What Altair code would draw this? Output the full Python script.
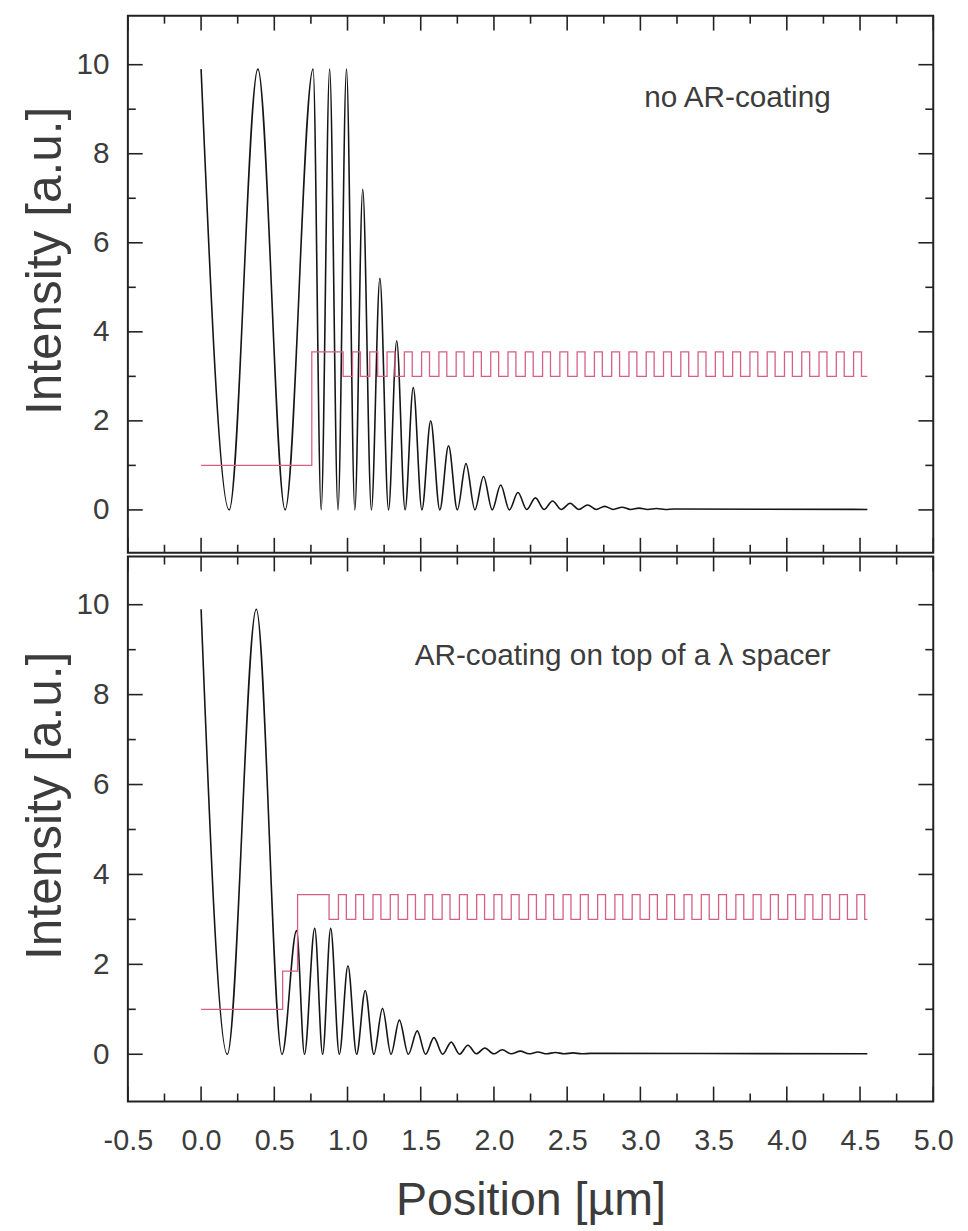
import altair as alt
import pandas as pd

# ---------------- data ----------------
X_MAJOR = [-0.5, 0.0, 0.5, 1.0, 1.5, 2.0, 2.5, 3.0, 3.5, 4.0, 4.5, 5.0]
X_MINOR = [-0.25, 0.25, 0.75, 1.25, 1.75, 2.25, 2.75, 3.25, 3.75, 4.25, 4.75]
Y_MAJOR = [0, 2, 4, 6, 8, 10]
Y_MINOR = [1, 3, 5, 7, 9]

# intensity extrema (position in um, intensity a.u.) - upper panel
TOP_X = [0.00, 0.192, 0.388, 0.574, 0.765, 0.820, 0.878, 0.935, 0.993, 1.050,
         1.104, 1.163, 1.221, 1.280, 1.336, 1.393, 1.449, 1.508, 1.568, 1.630,
         1.690, 1.750, 1.809, 1.870, 1.929, 1.988, 2.046, 2.105, 2.164, 2.224,
         2.283, 2.342, 2.400, 2.460, 2.520, 2.580, 2.640, 2.698, 2.756, 2.815,
         2.875, 2.933, 2.990, 3.050, 3.110, 3.170, 3.230, 4.550]
TOP_I = [9.9, 0.0, 9.9, 0.0, 9.9, 0.0, 9.9, 0.0, 9.9, 0.0,
         7.2, 0.0, 5.2, 0.0, 3.8, 0.0, 2.75, 0.0, 2.0, 0.0,
         1.44, 0.0, 1.04, 0.0, 0.75, 0.0, 0.56, 0.0, 0.39, 0.01,
         0.27, 0.01, 0.20, 0.01, 0.15, 0.01, 0.11, 0.01, 0.08, 0.01,
         0.06, 0.01, 0.04, 0.01, 0.03, 0.01, 0.02, 0.01]

# intensity extrema - lower panel
BOT_X = [0.00, 0.179, 0.377, 0.553, 0.652, 0.706, 0.776, 0.830, 0.885, 0.944,
         1.003, 1.062, 1.121, 1.180, 1.239, 1.297, 1.354, 1.415, 1.476, 1.533,
         1.590, 1.650, 1.708, 1.765, 1.822, 1.880, 1.938, 1.998, 2.057, 2.118,
         2.180, 2.240, 2.300, 2.360, 2.420, 2.480, 2.540, 2.600, 2.660, 4.550]
BOT_I = [9.9, 0.0, 9.9, 0.0, 2.75, 0.0, 2.8, 0.0, 2.8, 0.0,
         1.97, 0.0, 1.42, 0.0, 1.02, 0.0, 0.76, 0.0, 0.52, 0.0,
         0.37, 0.0, 0.27, 0.0, 0.20, 0.01, 0.14, 0.01, 0.10, 0.01,
         0.07, 0.01, 0.05, 0.01, 0.04, 0.01, 0.03, 0.01, 0.02, 0.01]

# refractive-index profile
N_AIR, N_AR, N_HIGH, N_LOW = 1.0, 1.85, 3.55, 3.0
HIGH_WIDTH = 0.054
STACK_END = 4.55
TOP_STEPS = [(0.756, N_HIGH), (0.970, N_LOW)]
TOP_HIGH_STARTS = [1.034, 1.152, 1.270, 1.388, 1.506, 1.624, 1.742, 1.860, 1.978, 2.096,
                   2.214, 2.332, 2.450, 2.568, 2.686, 2.804, 2.922, 3.040, 3.158, 3.276,
                   3.394, 3.512, 3.630, 3.748, 3.866, 3.984, 4.102, 4.220, 4.338, 4.456]
BOT_STEPS = [(0.557, N_AR), (0.659, N_HIGH), (0.874, N_LOW)]
BOT_HIGH_STARTS = [0.938, 1.056, 1.174, 1.292, 1.410, 1.528, 1.646, 1.764, 1.882, 2.000,
                   2.118, 2.236, 2.354, 2.472, 2.590, 2.708, 2.826, 2.944, 3.062, 3.180,
                   3.298, 3.416, 3.534, 3.652, 3.770, 3.888, 4.006, 4.124, 4.242, 4.360,
                   4.478]

TOP_NOTE = ("no AR-coating", 4.3, 9.24)
BOT_NOTE = ("AR-coating on top of a \u03bb spacer", 4.3, 8.86)

# ---------------- styling ----------------
FONT = "Liberation Sans"
TXT = "#3c3c3c"
FRAME = "#222222"
W = 813
H_TOP = 542
H_BOT = 550


def profile(steps, starts):
    rows = [(0.0, N_AIR)] + list(steps)
    for s in starts:
        rows.append((s, N_HIGH))
        rows.append((round(s + HIGH_WIDTH, 4), N_LOW))
    rows.append((STACK_END, N_LOW))
    return pd.DataFrame(rows, columns=["x", "y"])


def panel(cx, ci, steps, starts, note, ydom, h, show_x):
    xs = alt.Scale(domain=[-0.5, 5.0], nice=False, zero=False)
    ys = alt.Scale(domain=ydom, nice=False, zero=False)
    if show_x:
        xaxis = alt.Axis(values=X_MAJOR, format=".1f",
                         labelExpr="replace(datum.label, '\u2212', '-')",
                         labelFontSize=29, labelColor=TXT, labelPadding=25,
                         labelFlush=False, ticks=False, domain=False, grid=False,
                         title="Position [\u00b5m]", titleFontSize=47,
                         titleFontWeight="normal", titleColor=TXT, titlePadding=23)
    else:
        xaxis = None
    yaxis = alt.Axis(values=Y_MAJOR, labelFontSize=30, labelColor=TXT, labelPadding=19,
                     ticks=False, domain=False, grid=False,
                     title="Intensity [a.u.]", titleFontSize=50, titleFontWeight="normal",
                     titleColor=TXT, titlePadding=6, titleY=h / 2 - 24)

    def X():
        return alt.X("x:Q", scale=xs, axis=xaxis)

    def Y():
        return alt.Y("y:Q", scale=ys, axis=yaxis)

    curve = alt.Chart(pd.DataFrame({"x": cx, "y": ci})).mark_line(
        interpolate="monotone", color="#151515", strokeWidth=1.6).encode(x=X(), y=Y())
    prof = alt.Chart(profile(steps, starts)).mark_line(
        interpolate="step-after", color="#d65f84", strokeWidth=1.3).encode(x=X(), y=Y())
    txt = alt.Chart(pd.DataFrame({"t": [note[0]], "x": [note[1]], "y": [note[2]]})).mark_text(
        align="right", baseline="middle", fontSize=30, color=TXT, font=FONT).encode(
        x=X(), y=Y(), text="t:N")

    layers = [curve, prof, txt]
    for vals, ln in ((X_MAJOR, 15), (X_MINOR, 8)):
        d = pd.DataFrame({"x": vals})
        layers.append(alt.Chart(d).mark_rule(color=FRAME, strokeWidth=1.6).encode(
            x=X(), y=alt.value(0), y2=alt.value(ln)))
        layers.append(alt.Chart(d).mark_rule(color=FRAME, strokeWidth=1.6).encode(
            x=X(), y=alt.value(h), y2=alt.value(h - ln)))
    for vals, ln in ((Y_MAJOR, 15), (Y_MINOR, 8)):
        d = pd.DataFrame({"y": vals})
        layers.append(alt.Chart(d).mark_rule(color=FRAME, strokeWidth=1.6).encode(
            y=Y(), x=alt.value(0), x2=alt.value(ln)))
        layers.append(alt.Chart(d).mark_rule(color=FRAME, strokeWidth=1.6).encode(
            y=Y(), x=alt.value(W), x2=alt.value(W - ln)))
    return alt.layer(*layers).properties(width=W, height=h)


top = panel(TOP_X, TOP_I, TOP_STEPS, TOP_HIGH_STARTS, TOP_NOTE, [-0.96, 11.1], H_TOP, False)
bot = panel(BOT_X, BOT_I, BOT_STEPS, BOT_HIGH_STARTS, BOT_NOTE, [-1.05, 11.07], H_BOT, True)

chart = alt.vconcat(top, bot, spacing=0).resolve_scale(
    x="independent", y="independent"
).properties(
    padding={"left": 11, "top": 0, "right": 5, "bottom": 5}
).configure(font=FONT).configure_view(stroke=FRAME, strokeWidth=2)

chart.save("out.html", embed_options={"renderer": "svg", "actions": False})
